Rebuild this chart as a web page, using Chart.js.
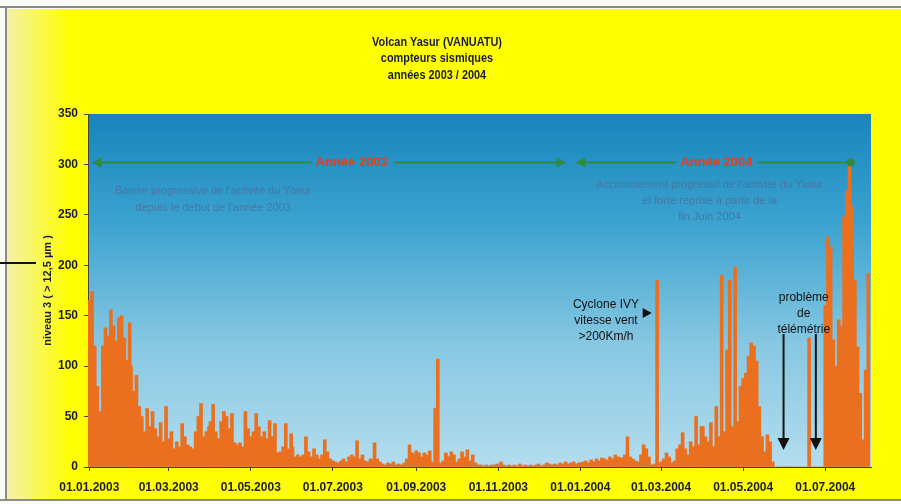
<!DOCTYPE html>
<html>
<head>
<meta charset="utf-8">
<script src="https://cdn.jsdelivr.net/npm/chart.js@4.4.1/dist/chart.umd.min.js"></script>
<style>
  html, body { margin: 0; padding: 0; background: #fff; }
  canvas { display: block; }
</style>
</head>
<body>
<canvas id="graficaYasur" width="901" height="504"></canvas>
<script>
// premier jour de chaque mois, compté depuis le 01.01.2003
const debutMois = [0, 31, 59, 90, 120, 151, 181, 212, 243, 273, 304, 334,
                   365, 396, 425, 456, 486, 517, 547];

// niveau 3 (> 12,5 µm) : une valeur tous les 2 jours, une ligne par mois
const niveau2003 = [
  [165, 174, 120, 80, 55, 120, 138, 130, 156, 140, 125, 148, 150, 128, 106, 143], // janvier
  [100, 75, 91, 60, 50, 35, 58, 40, 55, 38, 30, 44, 25, 60],                      // fevrier
  [28, 35, 18, 25, 20, 43, 30, 22, 20, 18, 35, 50, 63, 30, 35, 40],               // mars
  [45, 62, 35, 28, 45, 55, 50, 38, 53, 24, 22, 24, 20, 55, 38],                   // avril
  [30, 35, 53, 40, 30, 35, 28, 46, 30, 43, 14, 15, 20, 43, 18, 33],               // mai
  [20, 10, 12, 10, 12, 30, 15, 10, 18, 12, 8, 12, 27, 15, 8],                     // juin
  [6, 5, 4, 6, 8, 5, 10, 12, 10, 26, 8, 12, 6, 5, 8, 7],                          // juillet
  [24, 8, 5, 3, 2, 4, 3, 5, 2, 3, 2, 4, 8, 22, 14, 12],                           // aout
  [16, 14, 10, 14, 12, 16, 5, 58, 107, 4, 6, 14, 10, 15, 12],                     // septembre
  [5, 8, 15, 10, 17, 6, 12, 4, 2, 2, 1, 2, 1, 2, 2, 3],                           // octobre
  [1, 5, 2, 1, 2, 1, 2, 1, 3, 1, 2, 1, 2, 1, 2],                                  // novembre
  [3, 1, 2, 4, 3, 2, 3, 2, 4, 3, 5, 3, 4, 5, 3, 4]                                // decembre
];
const niveau2004 = [
  [4, 5, 6, 4, 7, 5, 8, 6, 9, 8, 7, 10, 8, 12, 10, 9],                            // janvier
  [9, 12, 30, 10, 8, 6, 5, 12, 22, 18, 10, 2, 3, 185, 3],                         // fevrier
  [5, 8, 14, 10, 4, 6, 18, 22, 34, 18, 12, 25, 20, 50, 22, 40],                   // mars
  [40, 30, 25, 44, 20, 60, 30, 190, 35, 116, 185, 40, 198, 45, 80],               // avril
  [88, 93, 110, 123, 120, 105, 60, 30, 15, 32, 25, 5, 0, 0, 0, 0],                // mai
  [0, 0, 0, 0, 0, 0, 0, 0, 0, 128, 0, 0, 0, 0, 0],                                // juin
  [160, 228, 218, 126, 100, 146, 140, 248, 274, 301, 258, 185, 119, 73, 27, 96, 192] // juillet
];

const jourTicks = [0, 59, 120, 181, 243, 304, 365, 425, 486, 547];
const dateTicks = ['01.01.2003', '01.03.2003', '01.05.2003', '01.07.2003', '01.09.2003',
                   '01.11.2003', '01.01.2004', '01.03.2004', '01.05.2004', '01.07.2004'];

const points = [];
niveau2003.concat(niveau2004).forEach((mois, m) => {
    mois.forEach((v, j) => points.push({ x: debutMois[m] + 2 * j, y: v }));
});

const police = 'Arial, "Liberation Sans", sans-serif';

// fond jaune + dégradé bleu de la zone de tracé
const fond = {
    id: 'fond',
    beforeDraw(chart) {
        const ctx = chart.ctx;
        const a = chart.chartArea;
        ctx.save();
        ctx.fillStyle = '#fbfbf6';
        ctx.fillRect(0, 0, chart.width, chart.height);
        const gJaune = ctx.createLinearGradient(7, 0, 70, 0);
        gJaune.addColorStop(0, '#f4f1a8');
        gJaune.addColorStop(1, '#ffff00');
        ctx.fillStyle = gJaune;
        ctx.fillRect(7, 9, 894, 490);
        ctx.strokeStyle = '#8c8c8c';
        ctx.lineWidth = 2;
        ctx.beginPath();
        ctx.moveTo(0, 7); ctx.lineTo(901, 7);
        ctx.moveTo(6, 7); ctx.lineTo(6, 500);
        ctx.moveTo(0, 500); ctx.lineTo(901, 500);
        ctx.stroke();
        ctx.strokeStyle = '#111';
        ctx.beginPath();
        ctx.moveTo(0, 263); ctx.lineTo(36, 263);
        ctx.stroke();

        const g = ctx.createLinearGradient(0, a.top, 0, a.bottom);
        g.addColorStop(0, '#1784bb');
        g.addColorStop(0.3, '#3aa2cf');
        g.addColorStop(0.65, '#86c7e2');
        g.addColorStop(1, '#b4ddee');
        ctx.fillStyle = g;
        ctx.fillRect(a.left, a.top, a.right - a.left, a.bottom - a.top);
        ctx.restore();
    }
};

function texteCentre(ctx, lignes, x, y, pas) {
    lignes.forEach((t, i) => ctx.fillText(t, x, y + i * pas));
}

function flecheH(ctx, xPointe, y, sens) {
    ctx.beginPath();
    ctx.moveTo(xPointe, y);
    ctx.lineTo(xPointe - sens * 9, y - 5);
    ctx.lineTo(xPointe - sens * 9, y + 5);
    ctx.closePath();
    ctx.fill();
}

function periode(ctx, x0, x1, y, label, xLabel) {
    ctx.font = 'bold 13px ' + police;
    const w = ctx.measureText(label).width;
    ctx.beginPath();
    ctx.moveTo(x0, y); ctx.lineTo(xLabel - w / 2 - 4, y);
    ctx.moveTo(xLabel + w / 2 + 6, y); ctx.lineTo(x1, y);
    ctx.stroke();
    ctx.fillStyle = '#e0401f';
    ctx.fillText(label, xLabel, y);
    ctx.fillStyle = '#2e8b3e';
}

const annotations = {
    id: 'annotations',
    afterDatasetsDraw(chart) {
        const { ctx, scales: { x, y } } = chart;
        ctx.save();
        ctx.textAlign = 'center';
        ctx.textBaseline = 'middle';

        // titre (police étroite simulée par une compression horizontale)
        ctx.save();
        ctx.fillStyle = '#1a1a48';
        ctx.font = 'bold 13px ' + police;
        ctx.translate(437, 0);
        ctx.scale(0.84, 1);
        texteCentre(ctx, ['Volcan Yasur (VANUATU)', 'compteurs sismiques', 'années 2003 / 2004'], 0, 42, 16.5);
        ctx.restore();

        // périodes Année 2003 / Année 2004
        const yA = y.getPixelForValue(302);
        ctx.strokeStyle = '#2e8b3e';
        ctx.fillStyle = '#2e8b3e';
        ctx.lineWidth = 2;
        const a0 = x.getPixelForValue(2), a1 = x.getPixelForValue(354);
        const b0 = x.getPixelForValue(362), b1 = x.getPixelForValue(566);
        periode(ctx, a0, a1, yA, 'Année 2003', x.getPixelForValue(195));
        periode(ctx, b0, b1, yA, 'Année 2004', x.getPixelForValue(466));
        flecheH(ctx, a0, yA, -1);
        flecheH(ctx, a1, yA, 1);
        flecheH(ctx, b0, yA, -1);
        ctx.beginPath();
        ctx.arc(b1, yA, 4, 0, Math.PI * 2);
        ctx.fill();

        // commentaires
        ctx.fillStyle = '#4677a3';
        ctx.font = '11px ' + police;
        texteCentre(ctx, ['Baisse progressive de l\'activité du Yasur', 'depuis le debut de l\'année 2003'],
            x.getPixelForValue(92), 191, 17);
        texteCentre(ctx, ['Accroissement progressif de l\'activité du Yasur', 'et forte reprise à partir de la', 'fin Juin 2004'],
            x.getPixelForValue(461), 185, 16);

        ctx.fillStyle = '#111';
        ctx.font = '12px ' + police;
        texteCentre(ctx, ['Cyclone IVY', 'vitesse vent', '>200Km/h'], x.getPixelForValue(384), 305, 16);
        flecheH(ctx, x.getPixelForValue(418), 313, 1);
        texteCentre(ctx, ['problème', 'de', 'télémétrie'], x.getPixelForValue(531), 298, 16);

        // flèches problème de télémétrie
        ctx.strokeStyle = '#111';
        ctx.lineWidth = 2;
        [516, 540].forEach(j => {
            const xf = x.getPixelForValue(j);
            ctx.beginPath();
            ctx.moveTo(xf, 334); ctx.lineTo(xf, 442);
            ctx.stroke();
            ctx.beginPath();
            ctx.moveTo(xf, 450);
            ctx.lineTo(xf - 6, 438);
            ctx.lineTo(xf + 6, 438);
            ctx.closePath();
            ctx.fill();
        });
        ctx.restore();
    }
};

new Chart(document.getElementById('graficaYasur').getContext('2d'), {
    type: 'bar',
    data: {
        datasets: [{
            label: 'niveau 3',
            data: points,
            backgroundColor: '#ea7020',
            borderWidth: 0,
            barThickness: 3
        }]
    },
    options: {
        responsive: false,
        animation: false,
        devicePixelRatio: 1,
        layout: { padding: { left: 0, right: 30, top: 114, bottom: 0 } },
        plugins: {
            legend: { display: false },
            tooltip: { enabled: false }
        },
        scales: {
            x: {
                type: 'linear',
                offset: false,
                min: -1,
                max: 581,
                afterBuildTicks: s => { s.ticks = jourTicks.map(v => ({ value: v })); },
                afterFit: s => { s.height = 37; },
                ticks: {
                    autoSkip: false,
                    maxRotation: 0,
                    padding: 9,
                    color: '#1d1d3a',
                    font: { family: police, size: 12, weight: 'bold' },
                    callback: (v, i) => dateTicks[i]
                },
                grid: { drawOnChartArea: false, offset: false, tickLength: 4, color: '#444' },
                border: { color: '#444' }
            },
            y: {
                min: 0,
                max: 350,
                afterFit: s => { s.width = 88; },
                ticks: {
                    stepSize: 50,
                    padding: 6,
                    color: '#1d1d3a',
                    font: { family: police, size: 12, weight: 'bold' }
                },
                grid: { drawOnChartArea: false, tickLength: 4, color: '#444' },
                border: { color: '#444' },
                title: {
                    display: true,
                    text: 'niveau 3 ( > 12,5 µm )',
                    color: '#1d1d3a',
                    font: { family: police, size: 11, weight: 'bold' },
                    padding: { top: 41, bottom: 0 }
                }
            }
        }
    },
    plugins: [fond, annotations]
});
</script>
</body>
</html>
